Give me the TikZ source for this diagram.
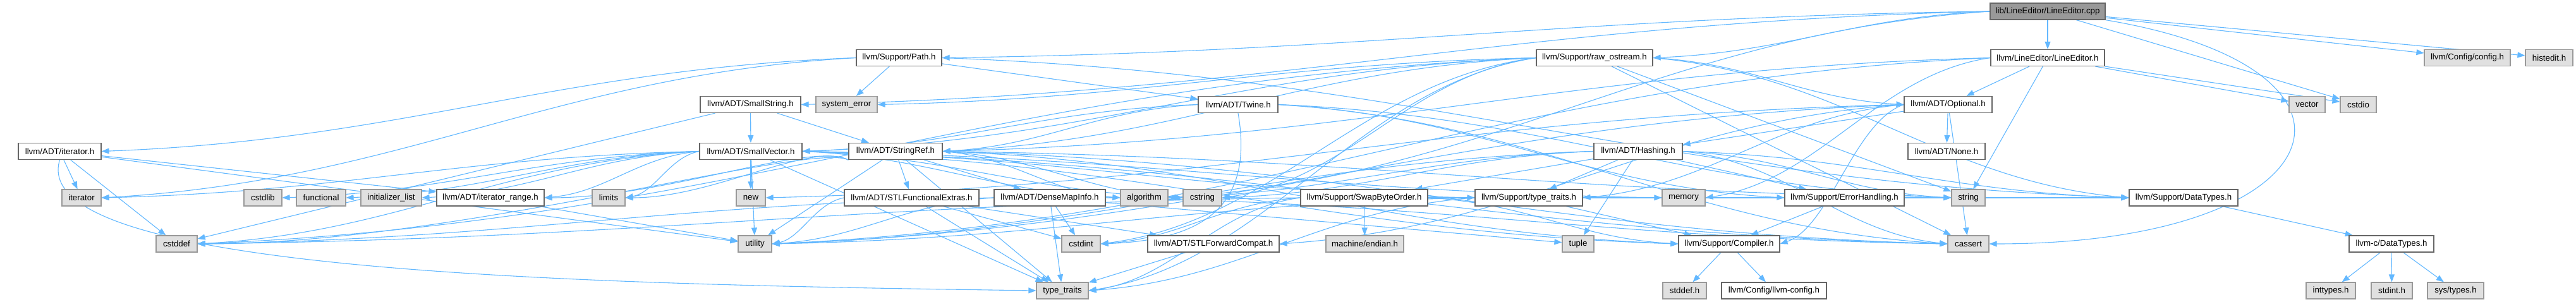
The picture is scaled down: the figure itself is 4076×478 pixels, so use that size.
\documentclass[tikz,border=0pt]{standalone}
\usepackage{fontspec}
\setmainfont{Liberation Sans}
\usetikzlibrary{arrows.meta,calc}
\definecolor{edgec}{HTML}{63B8FF}
\definecolor{docb}{HTML}{666666}
\definecolor{extb}{HTML}{999999}
\definecolor{extf}{HTML}{E0E0E0}
\definecolor{rootf}{HTML}{999999}
\pgfdeclarelayer{bg}
\pgfsetlayers{bg,main}
\newcommand\mynode[6]{\node[#1,minimum width=#2pt] (#3) at (#4,#5) {#6};}
\begin{document}
\begin{tikzpicture}[x=1pt,y=-1pt,
  box/.style={rectangle,line width=1.2pt,minimum height=26pt,inner sep=0pt,
    font=\fontsize{13.3}{16}\selectfont},
  doc/.style={box,draw=docb,fill=white},
  ext/.style={box,draw=extb,fill=extf},
  root/.style={box,draw=docb,fill=rootf},
  e/.style={draw=edgec,line width=1.1pt,-{Triangle[length=12pt,width=9pt]}}]
\useasboundingbox (0,0) rectangle (4076,478);
% row 0
\mynode{root}{182}{cpp}{3240}{18}{lib/LineEditor/LineEditor.cpp}
% row 1
\mynode{doc}{180}{leh}{3240}{91.5}{llvm/LineEditor/LineEditor.h}
\mynode{ext}{136}{cfg}{3904}{91.5}{llvm/Config/config.h}
\mynode{ext}{75}{hist}{4033.5}{91.5}{histedit.h}
\mynode{doc}{135}{path}{1422.5}{91.5}{llvm/Support/Path.h}
\mynode{doc}{184}{ros}{2523}{91.5}{llvm/Support/raw\_ostream.h}
% row 2
\mynode{doc}{159}{sstr}{1187.5}{165.5}{llvm/ADT/SmallString.h}
\mynode{ext}{97}{syserr}{1339.5}{165.5}{system\_error}
\mynode{doc}{126}{twine}{1959}{165.5}{llvm/ADT/Twine.h}
\mynode{doc}{139}{opt}{3082.5}{165.5}{llvm/ADT/Optional.h}
\mynode{ext}{57}{vec}{3650.5}{165.5}{vector}
\mynode{ext}{57}{cstdio}{3731.5}{165.5}{cstdio}
% row 3
\mynode{doc}{131}{itr}{94.5}{239.5}{llvm/ADT/iterator.h}
\mynode{doc}{162}{svec}{1188}{239.5}{llvm/ADT/SmallVector.h}
\mynode{doc}{148}{sref}{1417}{239.5}{llvm/ADT/StringRef.h}
\mynode{doc}{140}{hash}{2592}{239.5}{llvm/ADT/Hashing.h}
\mynode{doc}{122}{none}{3080}{239.5}{llvm/ADT/None.h}
% row 4
\mynode{ext}{62}{iterstd}{129}{313}{iterator}
\mynode{ext}{60}{cstdlib}{416}{313}{cstdlib}
\mynode{ext}{78}{functional}{508}{313}{functional}
\mynode{ext}{96}{initlist}{619}{313}{initializer\_list}
\mynode{doc}{170}{itrange}{776}{313}{llvm/ADT/iterator\_range.h}
\mynode{ext}{52}{limits}{963}{313}{limits}
\mynode{ext}{46}{new}{1188}{313}{new}
\mynode{doc}{213}{stlfe}{1442.5}{313}{llvm/ADT/STLFunctionalExtras.h}
\mynode{doc}{176}{dmi}{1661}{313}{llvm/ADT/DenseMapInfo.h}
\mynode{ext}{75}{algorithm}{1810.5}{313}{algorithm}
\mynode{ext}{61}{cstring}{1902.5}{313}{cstring}
\mynode{doc}{201}{swap}{2158.5}{313}{llvm/Support/SwapByteOrder.h}
\mynode{doc}{170}{ltt}{2419}{313}{llvm/Support/type\_traits.h}
\mynode{ext}{68}{memory}{2664}{313}{memory}
\mynode{doc}{189}{errh}{2918.5}{313}{llvm/Support/ErrorHandling.h}
\mynode{ext}{53}{string}{3114.5}{313}{string}
\mynode{doc}{172}{dtypes}{3455}{313}{llvm/Support/DataTypes.h}
% row 5
\mynode{ext}{65}{cstddef}{279.5}{386}{cstddef}
\mynode{ext}{53}{utility}{1194.5}{386}{utility}
\mynode{ext}{61}{cstdint}{1710.5}{386}{cstdint}
\mynode{doc}{208}{stlfc}{1920}{386}{llvm/ADT/STLForwardCompat.h}
\mynode{ext}{123}{endian}{2159.5}{386}{machine/endian.h}
\mynode{ext}{50}{tuple}{2497}{386}{tuple}
\mynode{doc}{160}{comp}{2736}{386}{llvm/Support/Compiler.h}
\mynode{ext}{65}{cassert}{3114.5}{386}{cassert}
\mynode{doc}{134}{cdt}{3784}{386}{llvm-c/DataTypes.h}
% row 6
\mynode{ext}{82}{tt}{1681}{460}{type\_traits}
\mynode{ext}{69}{stddef}{2665.5}{460}{stddef.h}
\mynode{doc}{166}{llvmcfg}{2807}{460}{llvm/Config/llvm-config.h}
\mynode{ext}{78}{inttypes}{3688}{460}{inttypes.h}
\mynode{ext}{65}{stdint}{3784.5}{460}{stdint.h}
\mynode{ext}{89}{systypes}{3885.5}{460}{sys/types.h}

\begin{pgfonlayer}{bg}
% short / mostly vertical edges: straight
\foreach \s/\t in {
  cpp/leh,cpp/cfg,cpp/cstdio,cpp/hist,
  leh/opt,leh/string,leh/vec,leh/cstdio,
  path/twine,path/syserr,
  ros/cassert,ros/string,
  sstr/svec,sstr/sref,sstr/cstddef,
  opt/hash,opt/none,opt/cassert,
  svec/new,svec/utility,
  sref/dmi,sref/stlfe,sref/utility,sref/tt,svec/tt,
  hash/swap,hash/ltt,hash/tuple,hash/errh,
  itr/itrange,itr/cstddef,itr/iterstd,itr/utility,
  stlfe/stlfc,stlfe/cstdint,stlfe/tt,
  dmi/cstdint,dmi/tt,dmi/tuple,
  itrange/utility,stlfc/tt,
  swap/endian,ltt/comp,errh/comp,
  comp/stddef,comp/llvmcfg,dtypes/cdt,
  cdt/inttypes,cdt/stdint,cdt/systypes}
  \draw[e] (\s) -- (\t);
% long edges running to the right
\foreach \s/\t in {
  path/dtypes,ros/opt,ros/dtypes,
  twine/errh,twine/cassert,twine/string,
  svec/comp,svec/ltt,svec/algorithm,svec/cstring,svec/memory,svec/cassert,
  sref/comp,sref/algorithm,sref/cstring,sref/string,sref/cassert,
  hash/dtypes,hash/string,hash/cassert,
  dmi/cassert,swap/comp,swap/dtypes}
  \draw[e] let \p1=(\s.east), \p2=(\t.west) in (\p1) .. controls
    ({\x1+0.4*(\x2-\x1)},{\y1+0.12*(\y2-\y1)}) and
    ({\x2-0.4*(\x2-\x1)},{\y2-0.12*(\y2-\y1)}) .. (\p2);
% long edges running to the left
\foreach \s/\t in {
  cpp/sstr,cpp/path,cpp/ros,cpp/algorithm,
  leh/sref,leh/utility,leh/memory,
  path/itr,path/iterstd,
  ros/svec,ros/sref,ros/syserr,ros/cstddef,ros/cstdint,ros/cstring,ros/tt,
  twine/svec,twine/sref,
  opt/stlfc,opt/comp,opt/ltt,opt/new,opt/utility,
  svec/itrange,svec/cstddef,svec/cstdlib,svec/functional,svec/initlist,svec/iterstd,svec/limits,
  hash/algorithm,hash/cstring,hash/utility,
  stlfe/utility,dmi/cstddef,dmi/utility,
  swap/cstddef,swap/cstdint,swap/tt,
  ltt/tt,ltt/utility}
  \draw[e] let \p1=(\s.west), \p2=(\t.east) in (\p1) .. controls
    ({\x1+0.4*(\x2-\x1)},{\y1+0.12*(\y2-\y1)}) and
    ({\x2-0.4*(\x2-\x1)},{\y2-0.12*(\y2-\y1)}) .. (\p2);
% StringRef's left-going edges leave from its lower left corner
\foreach \t in {itrange,cstddef,limits}
  \draw[e] let \p1=(sref.south west), \p2=(\t.east) in (\p1) .. controls
    ({\x1-60},{\y1+30}) and
    ({\x2+0.4*(\x1-\x2)},{\y2}) .. (\p2);
\draw[e] (cpp.south east) .. controls (3800,110) and (3700,386) .. (cassert.east);
\draw[e] (itr.south) .. controls (40,430) and (900,450) .. (tt.west);
\draw[e] (twine.south) .. controls (1985,330) and (1900,380) .. (cstdint.east);
\end{pgfonlayer}
\end{tikzpicture}
\end{document}
